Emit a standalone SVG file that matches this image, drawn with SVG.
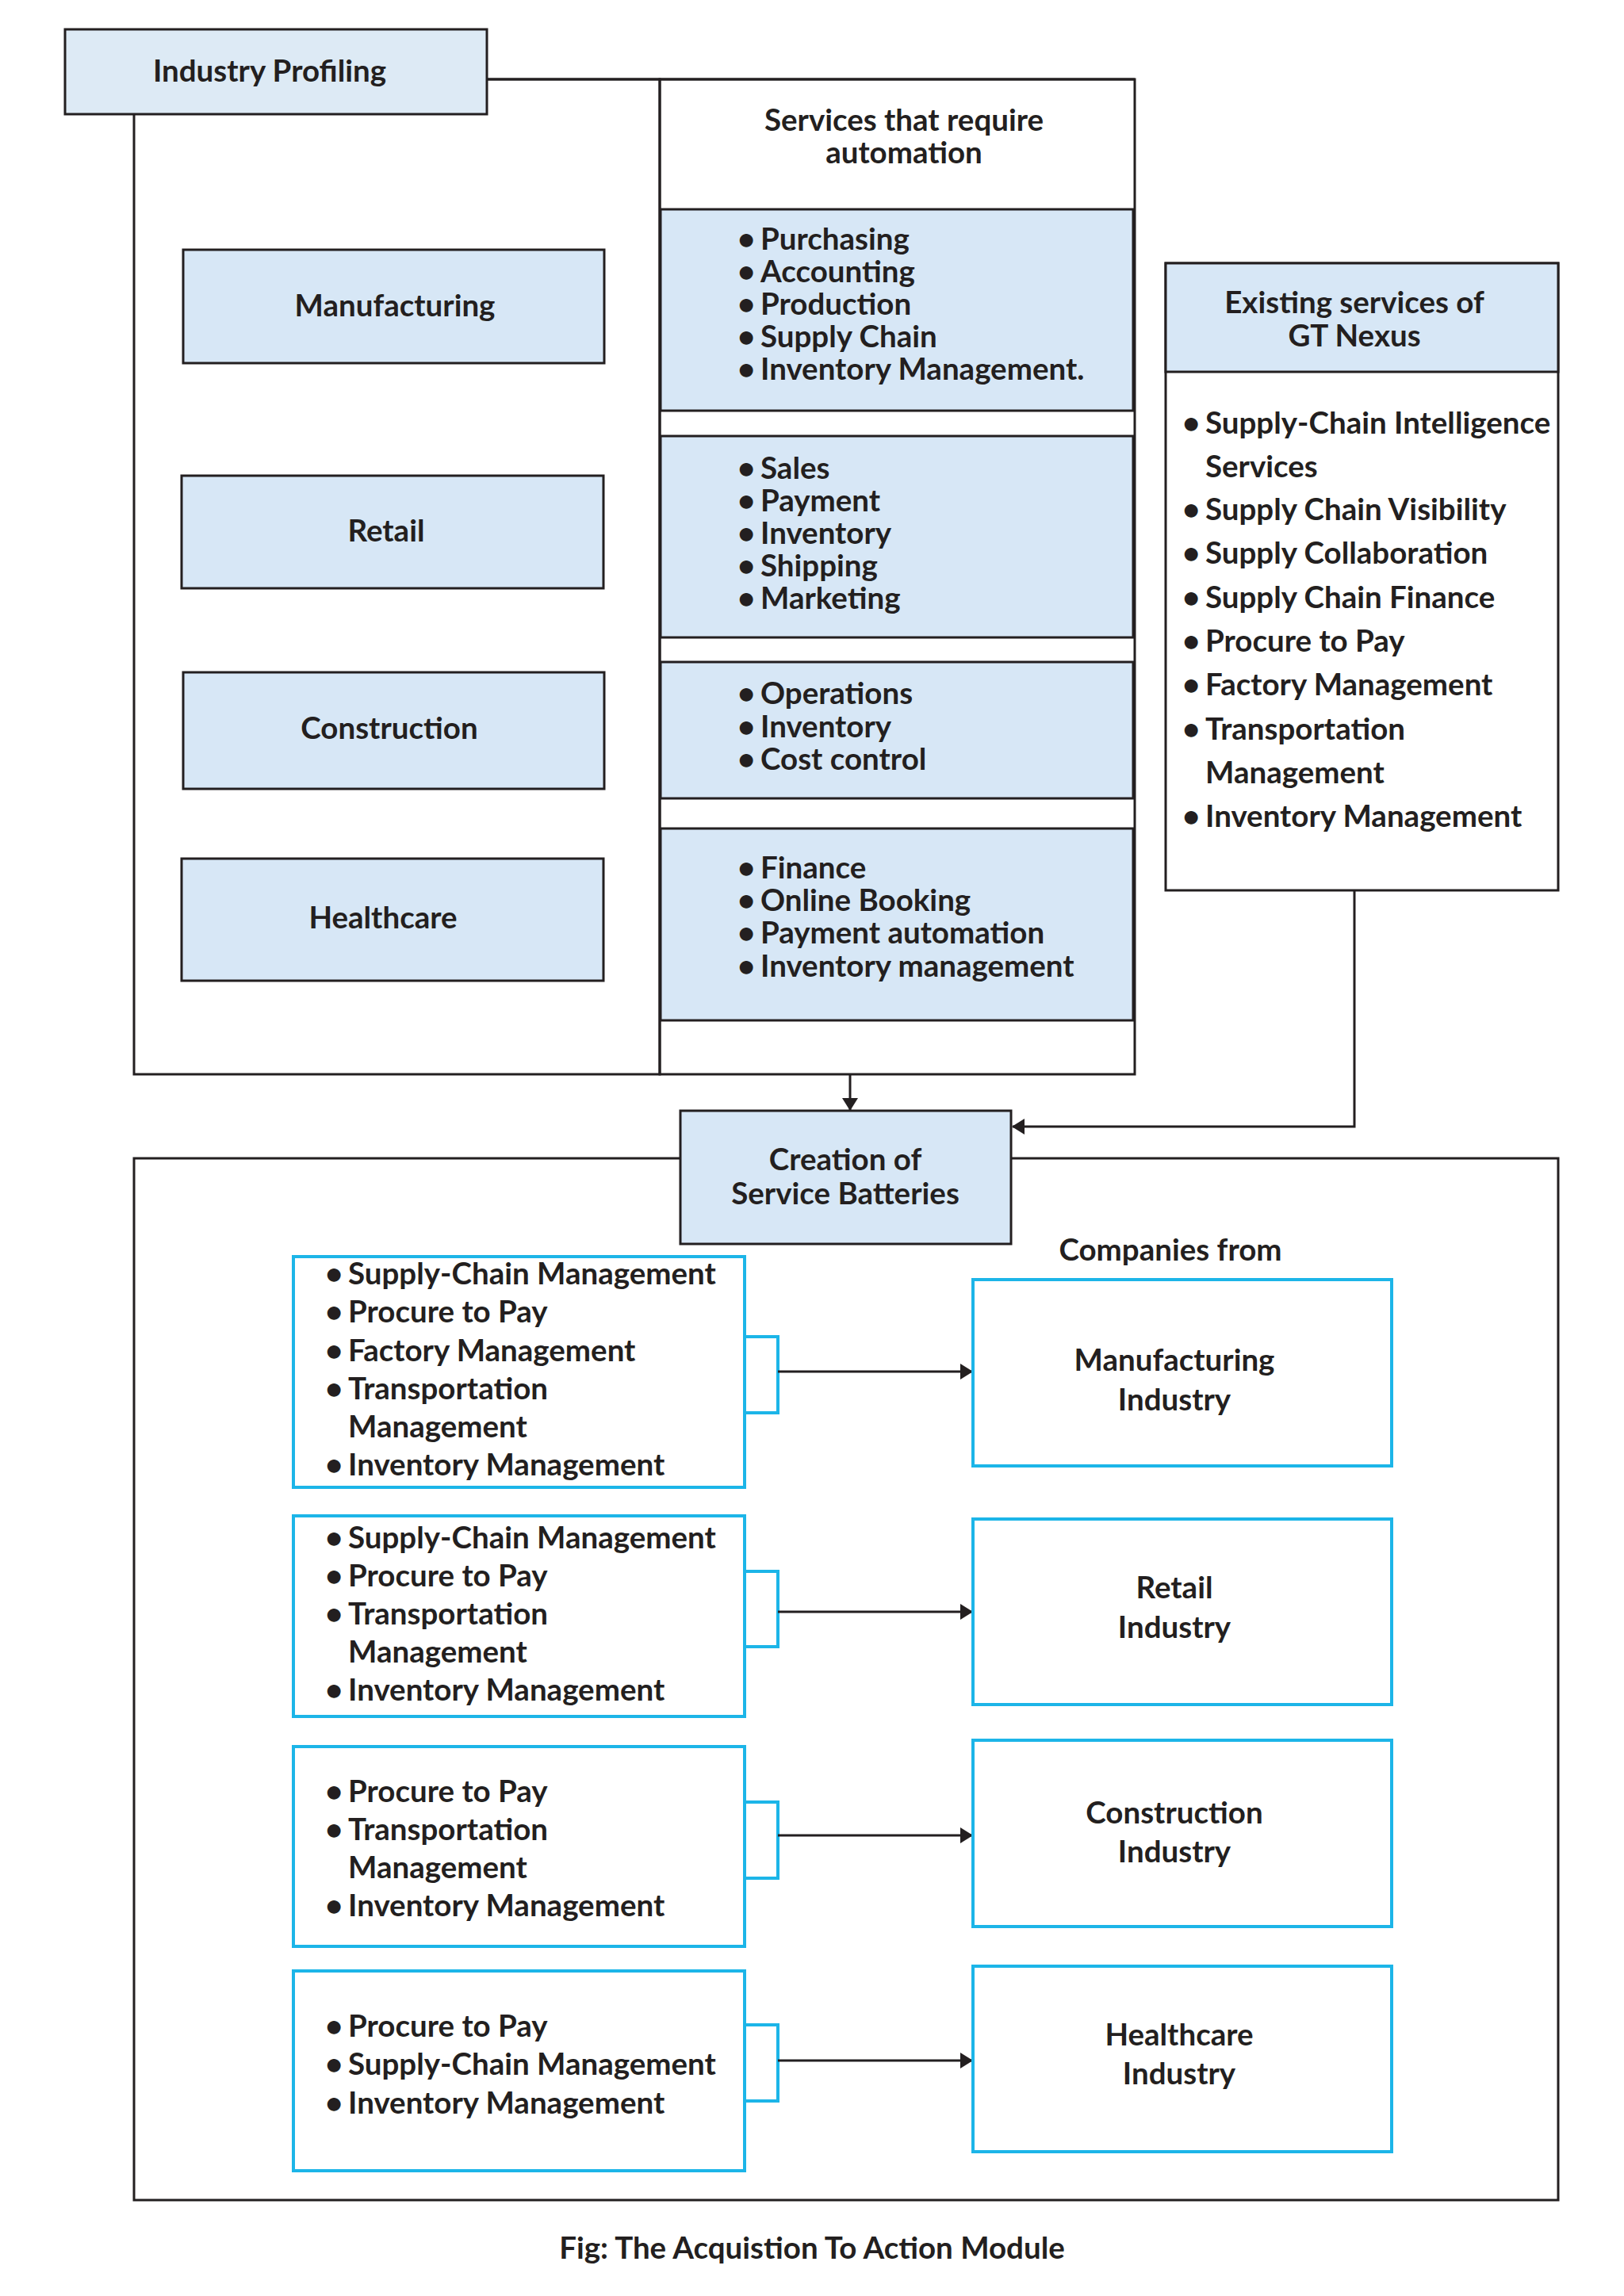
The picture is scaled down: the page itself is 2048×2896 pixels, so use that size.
<svg xmlns="http://www.w3.org/2000/svg" width="2048" height="2896" viewBox="0 0 2048 2896">
<defs>
<style>
.t{font-family:Lato,"Open Sans","Liberation Sans",sans-serif;font-weight:700;fill:#231f20;font-size:38.5px}
.c{text-anchor:middle}
.blk{fill:none;stroke:#231f20;stroke-width:3}
.blue{fill:#d7e7f6;stroke:#231f20;stroke-width:3}
.cy{fill:#ffffff;stroke:#1cb5e8;stroke-width:4}
.br{fill:none;stroke:#1cb5e8;stroke-width:4}
.ln{fill:none;stroke:#231f20;stroke-width:3}
</style>
<marker id="ah" markerUnits="userSpaceOnUse" markerWidth="16" markerHeight="20" refX="15" refY="10" orient="auto">
<path d="M0,0 L16,10 L0,20 Z" fill="#231f20"/>
</marker>
</defs>
<rect width="2048" height="2896" fill="#ffffff"/>

<g id="connectors">
<rect class="blk" x="169" y="100" width="663" height="1255"/>
<line class="ln" x1="614" y1="100" x2="1431" y2="100"/>
<rect class="blk" x="169" y="1461" width="1796" height="1314"/>
<path class="ln" d="M1072,1355 V1400" marker-end="url(#ah)"/>
<path class="ln" d="M1708,1123 V1421 H1277" marker-end="url(#ah)"/>
<path class="br" d="M939,1686 H981 V1782 H939"/>
<path class="br" d="M939,1982 H981 V2077 H939"/>
<path class="br" d="M939,2273 H981 V2369 H939"/>
<path class="br" d="M939,2554 H981 V2650 H939"/>
<path class="ln" d="M981,1730 H1226" marker-end="url(#ah)"/>
<path class="ln" d="M981,2033 H1226" marker-end="url(#ah)"/>
<path class="ln" d="M981,2315 H1226" marker-end="url(#ah)"/>
<path class="ln" d="M981,2599 H1226" marker-end="url(#ah)"/>
</g>

<g id="industry-profiling">
<rect x="82" y="37" width="532" height="107" fill="#ddeaf5" stroke="#231f20" stroke-width="3"/>
<text class="t c" x="340" y="103">Industry Profiling</text>
</g>

<g id="ind-manufacturing">
<rect class="blue" x="231" y="315" width="531" height="143"/>
<text class="t c" x="498" y="399">Manufacturing</text>
</g>
<g id="ind-retail">
<rect class="blue" x="229" y="600" width="532" height="142"/>
<text class="t c" x="487" y="683">Retail</text>
</g>
<g id="ind-construction">
<rect class="blue" x="231" y="848" width="531" height="147"/>
<text class="t c" x="491" y="932">Construction</text>
</g>
<g id="ind-healthcare">
<rect class="blue" x="229" y="1083" width="532" height="154"/>
<text class="t c" x="483" y="1171">Healthcare</text>
</g>

<g id="services">
<rect class="blk" x="832" y="100" width="599" height="1255"/>
<text class="t c" x="1140" y="165">Services that require</text>
<text class="t c" x="1140" y="206">automation</text>
</g>
<g id="svc-manufacturing">
<rect class="blue" x="833" y="264" width="596" height="254"/>
<text class="t" y="315"><tspan x="930">•</tspan><tspan x="959">Purchasing</tspan></text>
<text class="t" y="356"><tspan x="930">•</tspan><tspan x="959">Accounting</tspan></text>
<text class="t" y="397"><tspan x="930">•</tspan><tspan x="959">Production</tspan></text>
<text class="t" y="438"><tspan x="930">•</tspan><tspan x="959">Supply Chain</tspan></text>
<text class="t" y="479"><tspan x="930">•</tspan><tspan x="959">Inventory Management.</tspan></text>
</g>
<g id="svc-retail">
<rect class="blue" x="833" y="550" width="596" height="254"/>
<text class="t" y="604"><tspan x="930">•</tspan><tspan x="959">Sales</tspan></text>
<text class="t" y="645"><tspan x="930">•</tspan><tspan x="959">Payment</tspan></text>
<text class="t" y="686"><tspan x="930">•</tspan><tspan x="959">Inventory</tspan></text>
<text class="t" y="727"><tspan x="930">•</tspan><tspan x="959">Shipping</tspan></text>
<text class="t" y="768"><tspan x="930">•</tspan><tspan x="959">Marketing</tspan></text>
</g>
<g id="svc-construction">
<rect class="blue" x="833" y="835" width="596" height="172"/>
<text class="t" y="888"><tspan x="930">•</tspan><tspan x="959">Operations</tspan></text>
<text class="t" y="930"><tspan x="930">•</tspan><tspan x="959">Inventory</tspan></text>
<text class="t" y="971"><tspan x="930">•</tspan><tspan x="959">Cost control</tspan></text>
</g>
<g id="svc-healthcare">
<rect class="blue" x="833" y="1045" width="596" height="242"/>
<text class="t" y="1108"><tspan x="930">•</tspan><tspan x="959">Finance</tspan></text>
<text class="t" y="1149"><tspan x="930">•</tspan><tspan x="959">Online Booking</tspan></text>
<text class="t" y="1190"><tspan x="930">•</tspan><tspan x="959">Payment automation</tspan></text>
<text class="t" y="1232"><tspan x="930">•</tspan><tspan x="959">Inventory management</tspan></text>
</g>

<g id="gt-nexus">
<rect x="1470" y="332" width="495" height="791" fill="#ffffff" stroke="#231f20" stroke-width="3"/>
<rect class="blue" x="1470" y="332" width="495" height="137"/>
<text class="t c" x="1708" y="395">Existing services of</text>
<text class="t c" x="1708" y="437">GT Nexus</text>
<text class="t" y="547"><tspan x="1491">•</tspan><tspan x="1520">Supply-Chain Intelligence</tspan></text>
<text class="t" x="1520" y="602">Services</text>
<text class="t" y="656"><tspan x="1491">•</tspan><tspan x="1520">Supply Chain Visibility</tspan></text>
<text class="t" y="711"><tspan x="1491">•</tspan><tspan x="1520">Supply Collaboration</tspan></text>
<text class="t" y="767"><tspan x="1491">•</tspan><tspan x="1520">Supply Chain Finance</tspan></text>
<text class="t" y="822"><tspan x="1491">•</tspan><tspan x="1520">Procure to Pay</tspan></text>
<text class="t" y="877"><tspan x="1491">•</tspan><tspan x="1520">Factory Management</tspan></text>
<text class="t" y="933"><tspan x="1491">•</tspan><tspan x="1520">Transportation</tspan></text>
<text class="t" x="1520" y="988">Management</text>
<text class="t" y="1043"><tspan x="1491">•</tspan><tspan x="1520">Inventory Management</tspan></text>
</g>

<g id="creation">
<rect class="blue" x="858" y="1401" width="417" height="168"/>
<text class="t c" x="1066" y="1476">Creation of</text>
<text class="t c" x="1066" y="1519">Service Batteries</text>
</g>

<text class="t c" x="1476" y="1590">Companies from</text>

<g id="battery-manufacturing">
<rect class="cy" x="370" y="1585" width="569" height="291"/>
<text class="t" y="1620"><tspan x="410">•</tspan><tspan x="439">Supply-Chain Management</tspan></text>
<text class="t" y="1668"><tspan x="410">•</tspan><tspan x="439">Procure to Pay</tspan></text>
<text class="t" y="1717"><tspan x="410">•</tspan><tspan x="439">Factory Management</tspan></text>
<text class="t" y="1765"><tspan x="410">•</tspan><tspan x="439">Transportation</tspan></text>
<text class="t" x="439" y="1813">Management</text>
<text class="t" y="1861"><tspan x="410">•</tspan><tspan x="439">Inventory Management</tspan></text>
</g>
<g id="battery-retail">
<rect class="cy" x="370" y="1912" width="569" height="253"/>
<text class="t" y="1953"><tspan x="410">•</tspan><tspan x="439">Supply-Chain Management</tspan></text>
<text class="t" y="2001"><tspan x="410">•</tspan><tspan x="439">Procure to Pay</tspan></text>
<text class="t" y="2049"><tspan x="410">•</tspan><tspan x="439">Transportation</tspan></text>
<text class="t" x="439" y="2097">Management</text>
<text class="t" y="2145"><tspan x="410">•</tspan><tspan x="439">Inventory Management</tspan></text>
</g>
<g id="battery-construction">
<rect class="cy" x="370" y="2203" width="569" height="252"/>
<text class="t" y="2273"><tspan x="410">•</tspan><tspan x="439">Procure to Pay</tspan></text>
<text class="t" y="2321"><tspan x="410">•</tspan><tspan x="439">Transportation</tspan></text>
<text class="t" x="439" y="2369">Management</text>
<text class="t" y="2417"><tspan x="410">•</tspan><tspan x="439">Inventory Management</tspan></text>
</g>
<g id="battery-healthcare">
<rect class="cy" x="370" y="2486" width="569" height="252"/>
<text class="t" y="2569"><tspan x="410">•</tspan><tspan x="439">Procure to Pay</tspan></text>
<text class="t" y="2617"><tspan x="410">•</tspan><tspan x="439">Supply-Chain Management</tspan></text>
<text class="t" y="2666"><tspan x="410">•</tspan><tspan x="439">Inventory Management</tspan></text>
</g>

<g id="co-manufacturing">
<rect class="cy" x="1227" y="1614" width="528" height="235"/>
<text class="t c" x="1481" y="1729">Manufacturing</text>
<text class="t c" x="1481" y="1779">Industry</text>
</g>
<g id="co-retail">
<rect class="cy" x="1227" y="1916" width="528" height="234"/>
<text class="t c" x="1481" y="2016">Retail</text>
<text class="t c" x="1481" y="2066">Industry</text>
</g>
<g id="co-construction">
<rect class="cy" x="1227" y="2195" width="528" height="235"/>
<text class="t c" x="1481" y="2300">Construction</text>
<text class="t c" x="1481" y="2349">Industry</text>
</g>
<g id="co-healthcare">
<rect class="cy" x="1227" y="2480" width="528" height="234"/>
<text class="t c" x="1487" y="2580">Healthcare</text>
<text class="t c" x="1487" y="2629">Industry</text>
</g>

<text class="t c" x="1024" y="2849">Fig: The Acquistion To Action Module</text>
</svg>
